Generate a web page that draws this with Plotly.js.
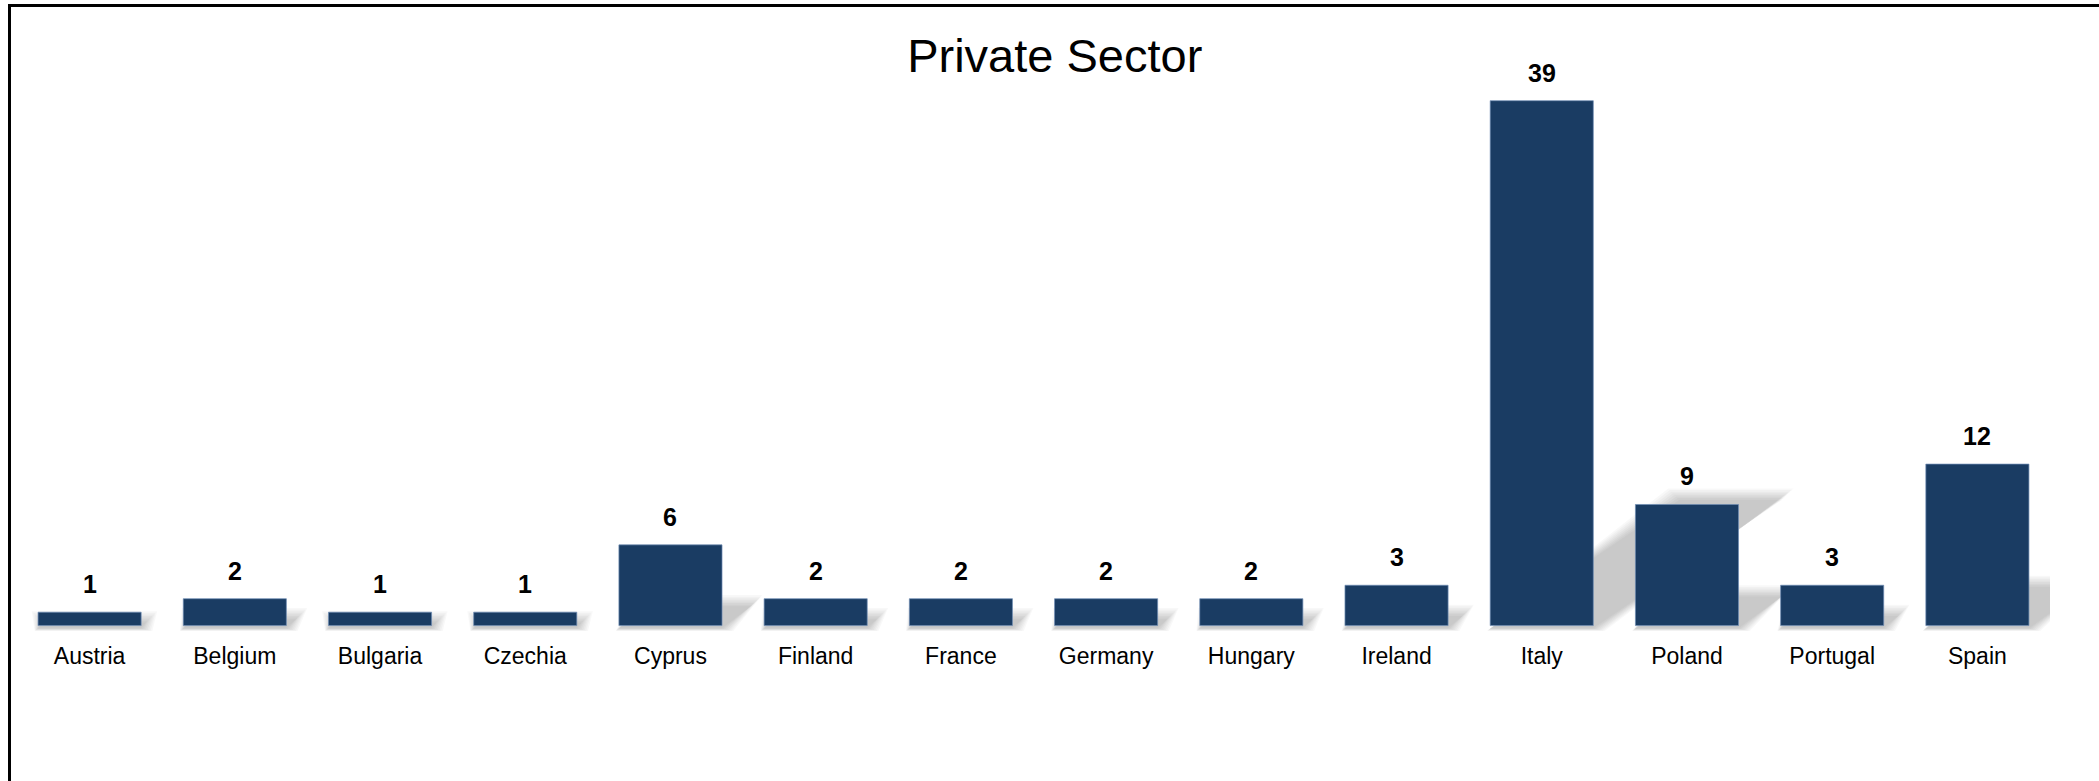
<!DOCTYPE html>
<html>
<head>
<meta charset="utf-8">
<script src="https://cdn.plot.ly/plotly-3.0.1.min.js"></script>
<style>
html,body{margin:0;padding:0;background:#fff;overflow:hidden;}
#wrap{position:absolute;left:0;top:0;width:2099px;height:781px;overflow:hidden;}
#chart{position:absolute;left:0;top:0;width:2099px;height:781px;}
#frame{position:absolute;left:8px;top:4px;width:2091px;height:777px;border-top:3px solid #000;border-left:3px solid #000;pointer-events:none;box-sizing:border-box;}
</style>
</head>
<body>
<div id="wrap">
<div id="chart"></div>
<div id="frame"></div>
</div>
<script>
// ---- data ----
const titleText = 'Private Sector';
const countries = ['Austria','Belgium','Bulgaria','Czechia','Cyprus','Finland','France','Germany','Hungary','Ireland','Italy','Poland','Portugal','Spain'];
const values = [1, 2, 1, 1, 6, 2, 2, 2, 2, 3, 39, 9, 3, 12];

// ---- styling ----
const barColor = '#1a3c63';
const barWidth = 0.71;
const positions = countries.map((c, i) => i);

// soft perspective shadow behind bars, derived from the values
const pxX = 1 / 145.15, pxY = 1 / 13.46;
const shadowRise = 0.24;    // shadow height per unit of value
const shadowShift = 0.0334; // horizontal shift per unit of value (category units)
const blurLayers = [];
for (let e = 14; e >= 0; e -= 2) blurLayers.push({e: e, o: 0.028});
const shapes = [];
values.forEach((v, i) => {
  const x0 = positions[i] - barWidth / 2, x1 = positions[i] + barWidth / 2;
  const dx = shadowShift * v, h = shadowRise * v;
  blurLayers.forEach(L => {
    const ex = L.e * pxX * 0.8, ey = L.e * pxY * 0.8;
    const yb = -0.2 - ey * 0.25;
    shapes.push({
      type: 'path', xref: 'x', yref: 'y', layer: 'below',
      path: `M${x0 - ex * 0.3},${yb} L${x1 + ex},${yb} L${x1 + dx + ex},${h + ey} L${x0 + dx - ex},${h + ey} Z`,
      fillcolor: `rgba(0,0,0,${L.o})`, line: {width: 0}
    });
  });
});

const annotations = values.map((v, i) => ({
  x: positions[i], y: v, xref: 'x', yref: 'y',
  text: String(v), showarrow: false, yanchor: 'bottom', yshift: 12,
  font: {family: 'Liberation Sans, Arial, sans-serif', size: 25, color: '#000', weight: 700}
}));

const trace = {
  type: 'bar', x: positions, y: values, width: barWidth,
  marker: {color: barColor, line: {color: 'rgba(110,140,180,0.7)', width: 1}},
  hoverinfo: 'x+y', cliponaxis: false
};

const layout = {
  width: 2099, height: 781,
  paper_bgcolor: '#fff', plot_bgcolor: 'rgba(0,0,0,0)',
  margin: {l: 17, r: 49, t: 40, b: 150},
  title: {
    text: titleText, xref: 'container', yref: 'container',
    x: 0.5025, xanchor: 'center', y: 0.929, yanchor: 'middle',
    font: {family: 'Liberation Sans, Arial, sans-serif', size: 47, color: '#000'}
  },
  xaxis: {
    type: 'linear', range: [-0.5, 13.5], tickvals: positions, ticktext: countries,
    showgrid: false, zeroline: false, showline: false, ticks: '',
    ticklabelstandoff: 9,
    tickfont: {family: 'Liberation Sans, Arial, sans-serif', size: 23, color: '#000'}
  },
  yaxis: {
    range: [-0.4, 43.51], visible: false, showgrid: false, zeroline: false
  },
  shapes: shapes,
  annotations: annotations,
  showlegend: false,
  bargap: 0.29
};

Plotly.newPlot('chart', [trace], layout, {displayModeBar: false, staticPlot: true});
</script>
</body>
</html>
